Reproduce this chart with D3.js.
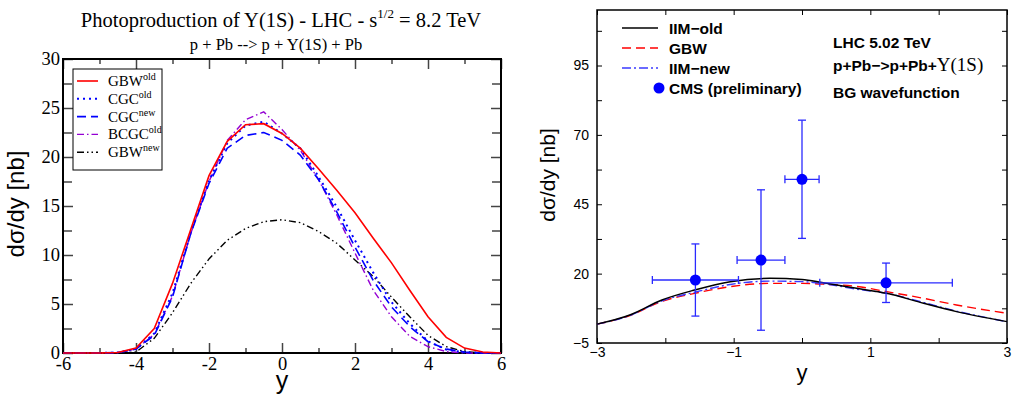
<!DOCTYPE html>
<html>
<head>
<meta charset="utf-8">
<script src="https://cdn.jsdelivr.net/npm/d3@7"></script>
<style>
  body { margin: 0; background: #fff; }
  svg { display: block; }
</style>
</head>
<body>
<script>
// ---- left panel data (8.2 TeV) ----
const rapL = [-6, -5.5, -5, -4.5, -4, -3.5, -3, -2.5, -2, -1.5, -1, -0.5, 0, 0.5, 1, 1.5, 2, 2.5, 3, 3.5, 4, 4.5, 5, 5.5, 6]
const gbwOld  = [0, 0, 0, 0.05, 0.5, 2.5, 7.1, 12.6, 18.1, 21.6, 23.3, 23.4, 22.4, 20.9, 18.8, 16.6, 14.3, 11.7, 9.2, 6.4, 3.7, 1.6, 0.5, 0.1, 0]
const cgcOld  = [0, 0, 0, 0.05, 0.4, 2.0, 6.1, 12.3, 17.6, 21.4, 23.2, 23.6, 22.4, 20.9, 18.0, 14.9, 11.5, 8.2, 5.2, 3.0, 1.2, 0.35, 0.05, 0, 0]
const cgcNew  = [0, 0, 0, 0.05, 0.4, 1.8, 5.7, 12.2, 17.3, 20.9, 22.2, 22.5, 21.7, 20.2, 17.7, 14.4, 10.8, 7.4, 4.7, 2.7, 1.15, 0.4, 0.1, 0, 0]
const bcgcOld = [0, 0, 0, 0.05, 0.4, 1.9, 5.8, 12.2, 17.5, 21.7, 23.8, 24.6, 22.8, 20.7, 17.7, 14.1, 10.2, 6.4, 3.7, 1.7, 0.65, 0.15, 0, 0, 0]
const gbwNew  = [0, 0, 0, 0, 0.1, 1.5, 4.1, 7.1, 9.6, 11.5, 12.7, 13.4, 13.6, 13.3, 12.4, 11.2, 9.5, 7.8, 5.7, 3.7, 1.8, 0.65, 0.15, 0, 0]

const ticksXL = [-6, -4, -2, 0, 2, 4, 6]
const ticksYL = [0, 5, 10, 15, 20, 25, 30]

// ---- right panel data (5.02 TeV) ----
const rapR   = [-3, -2.52, -2.05, -1.57, -1.05, -0.47, 0, 0.31, 0.8, 1.24, 1.78, 2.26, 3]
const iimOld = [1.8, 5.1, 10.5, 14.1, 17.1, 18.3, 17.9, 16.7, 14.7, 12.9, 9.3, 6.3, 2.7]
const gbwR   = [1.8, 4.9, 10.0, 12.9, 15.3, 16.5, 16.5, 16.2, 15.4, 13.5, 11.1, 8.7, 5.7]
const iimNew = [1.8, 4.9, 10.2, 13.3, 16.1, 17.3, 17.1, 16.4, 14.4, 12.9, 9.6, 6.5, 2.7]

const cmsY     = [-1.56, -0.6, 0, 1.23]
const cmsVal   = [17.7, 24.9, 54.0, 16.7]
const cmsXErr  = [0.63, 0.35, 0.25, 0.97]
const cmsYErr  = [13.0, 25.3, 21.3, 7.1]

const ticksXR = [-3, -1, 1, 3]
const ticksYR = [-5, 20, 45, 70, 95]

const svg = d3.select('body').append('svg').attr('width', 1015).attr('height', 398)
const serif = '"Liberation Serif", "Times New Roman", serif'
const sans = '"Liberation Sans", Arial, sans-serif'

// ================= LEFT =================
const L = {left: 63, right: 501, top: 59, bottom: 353}
const xL = d3.scaleLinear().domain([-6, 6]).range([L.left, L.right])
const yL = d3.scaleLinear().domain([0, 30]).range([L.bottom, L.top])
const gl = svg.append('g')

const inAxis = (g, axis) => g.call(axis).call(s => s.select('.domain').remove())

// minor ticks
inAxis(gl.append('g').attr('transform', `translate(0,${L.bottom})`),
  d3.axisBottom(xL).tickValues(d3.range(-5, 6, 2)).tickSize(-5).tickFormat(''))
inAxis(gl.append('g').attr('transform', `translate(0,${L.top})`),
  d3.axisTop(xL).tickValues(d3.range(-5, 6, 2)).tickSize(-5).tickFormat(''))
inAxis(gl.append('g').attr('transform', `translate(${L.left},0)`),
  d3.axisLeft(yL).tickValues(d3.range(2.5, 30, 5)).tickSize(-9).tickFormat(''))
inAxis(gl.append('g').attr('transform', `translate(${L.right},0)`),
  d3.axisRight(yL).tickValues(d3.range(2.5, 30, 5)).tickSize(-9).tickFormat(''))

// major ticks
inAxis(gl.append('g').attr('transform', `translate(0,${L.bottom})`),
  d3.axisBottom(xL).tickValues(ticksXL).tickSize(-10).tickPadding(4).tickFormat(d => d))
inAxis(gl.append('g').attr('transform', `translate(0,${L.top})`),
  d3.axisTop(xL).tickValues(ticksXL).tickSize(-10).tickFormat(''))
inAxis(gl.append('g').attr('transform', `translate(${L.left},0)`),
  d3.axisLeft(yL).tickValues(ticksYL).tickSize(-10).tickPadding(3).tickFormat(d => d))
inAxis(gl.append('g').attr('transform', `translate(${L.right},0)`),
  d3.axisRight(yL).tickValues(ticksYL).tickSize(-10).tickFormat(''))
gl.selectAll('.tick line').attr('stroke', '#444').attr('stroke-width', 1.5)
gl.selectAll('.tick text').attr('font-family', serif).attr('font-size', 18.5).attr('fill', '#000')

gl.append('rect').attr('x', L.left).attr('y', L.top).attr('width', L.right - L.left).attr('height', L.bottom - L.top)
  .attr('fill', 'none').attr('stroke', '#000').attr('stroke-width', 2)

const seriesL = [
  {name: 'GBW', sup: 'old', vals: gbwOld, color: '#ff0000', dash: null, w: 1.6},
  {name: 'CGC', sup: 'old', vals: cgcOld, color: '#0000ff', dash: '2,4', w: 2},
  {name: 'CGC', sup: 'new', vals: cgcNew, color: '#0000ff', dash: '9,5', w: 1.6},
  {name: 'BCGC', sup: 'old', vals: bcgcOld, color: '#9400d3', dash: '7,3,1.5,3', w: 1.4},
  {name: 'GBW', sup: 'new', vals: gbwNew, color: '#000', dash: '7,3,1.5,3,1.5,3', w: 1.4}
]
const lineL = d3.line().x((d, i) => xL(rapL[i])).y(d => yL(d))
seriesL.slice().reverse().forEach(s => {
  gl.append('path').datum(s.vals).attr('d', lineL).attr('fill', 'none')
    .attr('stroke', s.color).attr('stroke-width', s.w).attr('stroke-dasharray', s.dash)
})

// legend
gl.append('rect').attr('x', 73).attr('y', 69).attr('width', 89).attr('height', 101)
  .attr('fill', '#fff').attr('stroke', '#000').attr('stroke-width', 1)
seriesL.forEach((s, i) => {
  const yy = 81 + i * 17.8
  gl.append('line').attr('x1', 77).attr('x2', 98).attr('y1', yy).attr('y2', yy)
    .attr('stroke', s.color).attr('stroke-width', s.w).attr('stroke-dasharray', s.dash)
  const t = gl.append('text').attr('x', 108).attr('y', yy + 5).attr('font-family', serif).attr('font-size', 15)
  t.append('tspan').text(s.name)
  t.append('tspan').attr('font-size', 10).attr('dy', -6).text(s.sup)
})

// titles
const tt = gl.append('text').attr('x', 281).attr('y', 27).attr('text-anchor', 'middle')
  .attr('font-family', serif).attr('font-size', 20.5)
tt.append('tspan').text('Photoproduction of Y(1S) - LHC - s')
tt.append('tspan').attr('font-size', 13).attr('dy', -9).text('1/2')
tt.append('tspan').attr('dy', 9).text(' = 8.2 TeV')
gl.append('text').attr('x', 276).attr('y', 50).attr('text-anchor', 'middle')
  .attr('font-family', serif).attr('font-size', 16.5).text('p + Pb --> p + Y(1S) + Pb')

gl.append('text').attr('transform', 'translate(24,204) rotate(-90)').attr('text-anchor', 'middle')
  .attr('font-family', sans).attr('font-size', 24).text('dσ/dy [nb]')
gl.append('text').attr('x', 282).attr('y', 389).attr('text-anchor', 'middle')
  .attr('font-family', sans).attr('font-size', 25).text('y')

// ================= RIGHT =================
const R = {left: 597, right: 1007, top: 10, bottom: 343}
const xR = d3.scaleLinear().domain([-3, 3]).range([R.left, R.right])
const yR = d3.scaleLinear().domain([-5, 115]).range([R.bottom, R.top])
const gr = svg.append('g')

const minX = [-2, 0, 2]
const minY = d3.range(7.5, 115, 25)
inAxis(gr.append('g').attr('transform', `translate(0,${R.bottom})`),
  d3.axisBottom(xR).tickValues(ticksXR.concat(minX)).tickSize(-5).tickPadding(4)
    .tickFormat(d => ticksXR.includes(d) ? String(d).replace('-', '−') : ''))
inAxis(gr.append('g').attr('transform', `translate(0,${R.top})`),
  d3.axisTop(xR).tickValues(ticksXR.concat(minX)).tickSize(-5).tickFormat(''))
inAxis(gr.append('g').attr('transform', `translate(${R.left},0)`),
  d3.axisLeft(yR).tickValues(ticksYR.concat(minY)).tickSize(-5).tickPadding(8)
    .tickFormat(d => ticksYR.includes(d) ? String(d).replace('-', '−') : ''))
inAxis(gr.append('g').attr('transform', `translate(${R.right},0)`),
  d3.axisRight(yR).tickValues(ticksYR.concat(minY)).tickSize(-5).tickFormat(''))
gr.selectAll('.tick line').attr('stroke', '#000').attr('stroke-width', 1)
gr.selectAll('.tick text').attr('font-family', sans).attr('font-size', 14).attr('fill', '#000')

gr.append('rect').attr('x', R.left).attr('y', R.top).attr('width', R.right - R.left).attr('height', R.bottom - R.top)
  .attr('fill', 'none').attr('stroke', '#000').attr('stroke-width', 1.5)

const lineR = d3.line().curve(d3.curveMonotoneX).x((d, i) => xR(rapR[i])).y(d => yR(d))
const seriesR = [
  {name: 'IIM−old', vals: iimOld, color: '#000', dash: null, w: 1.5},
  {name: 'GBW', vals: gbwR, color: '#ff0000', dash: '9,5', w: 1.4},
  {name: 'IIM−new', vals: iimNew, color: '#3a3aff', dash: '9,3,2,3', w: 1.4}
]
;[seriesR[1], seriesR[2], seriesR[0]].forEach(s => {
  gr.append('path').datum(s.vals).attr('d', lineR).attr('fill', 'none')
    .attr('stroke', s.color).attr('stroke-width', s.w).attr('stroke-dasharray', s.dash)
})

// CMS points
const eb = gr.append('g').attr('stroke', '#2a2aff').attr('stroke-width', 1.3)
cmsY.forEach((x, i) => {
  const v = cmsVal[i], ex = cmsXErr[i], ey = cmsYErr[i]
  eb.append('line').attr('x1', xR(x - ex)).attr('x2', xR(x + ex)).attr('y1', yR(v)).attr('y2', yR(v))
  eb.append('line').attr('x1', xR(x)).attr('x2', xR(x)).attr('y1', yR(v - ey)).attr('y2', yR(v + ey))
  ;[x - ex, x + ex].forEach(c => eb.append('line').attr('x1', xR(c)).attr('x2', xR(c))
    .attr('y1', yR(v) - 4).attr('y2', yR(v) + 4))
  ;[v - ey, v + ey].forEach(c => eb.append('line').attr('x1', xR(x) - 4).attr('x2', xR(x) + 4)
    .attr('y1', yR(c)).attr('y2', yR(c)))
})
gr.selectAll('circle.cms').data(cmsY).join('circle').attr('class', 'cms')
  .attr('cx', d => xR(d)).attr('cy', (d, i) => yR(cmsVal[i])).attr('r', 5.5).attr('fill', '#0000ff')

// legend
const fsR = 15.5
seriesR.forEach((s, i) => {
  const yy = 28 + i * 20
  gr.append('line').attr('x1', 622).attr('x2', 658).attr('y1', yy).attr('y2', yy)
    .attr('stroke', s.color).attr('stroke-width', s.w).attr('stroke-dasharray', s.dash)
  gr.append('text').attr('x', 669).attr('y', yy + 5.5).attr('font-family', sans).attr('font-weight', 'bold')
    .attr('font-size', fsR).text(s.name)
})
gr.append('circle').attr('cx', 659).attr('cy', 88).attr('r', 5.5).attr('fill', '#0000ff')
gr.append('text').attr('x', 669).attr('y', 93.5).attr('font-family', sans).attr('font-weight', 'bold')
  .attr('font-size', fsR).text('CMS (preliminary)')

gr.append('text').attr('x', 833).attr('y', 47.5).attr('font-family', sans).attr('font-weight', 'bold')
  .attr('font-size', fsR).text('LHC 5.02 TeV')
const pr = gr.append('text').attr('x', 833).attr('y', 70.5).attr('font-family', sans).attr('font-weight', 'bold')
  .attr('font-size', fsR)
pr.append('tspan').text('p+Pb−>p+Pb+')
pr.append('tspan').attr('font-family', serif).attr('font-weight', 'normal').attr('font-size', 19).text('Υ(1S)')
gr.append('text').attr('x', 833).attr('y', 97.5).attr('font-family', sans).attr('font-weight', 'bold')
  .attr('font-size', fsR).text('BG wavefunction')

gr.append('text').attr('transform', 'translate(555,175) rotate(-90)').attr('text-anchor', 'middle')
  .attr('font-family', sans).attr('font-size', 21).text('dσ/dy [nb]')
gr.append('text').attr('x', 802).attr('y', 380).attr('text-anchor', 'middle')
  .attr('font-family', sans).attr('font-size', 22).text('y')
</script>
</body>
</html>
